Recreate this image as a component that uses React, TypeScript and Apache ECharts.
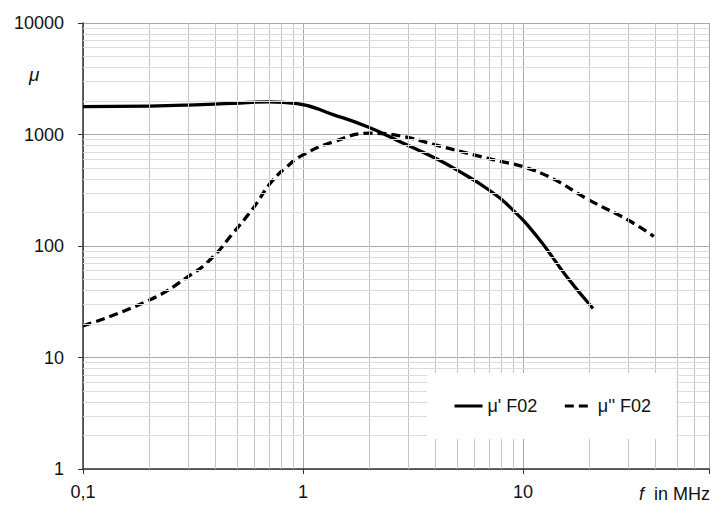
import React, { useEffect, useRef } from "react";
import * as echarts from "echarts";

// frequency in MHz, permeability
const freqReal = [0.1, 0.2, 0.3, 0.48, 0.7, 0.94, 1.38, 1.95, 2.76, 4, 5, 7, 9, 11.6, 15.8, 20.8];
const muReal = [1780, 1800, 1835, 1905, 1963, 1895, 1500, 1178, 863, 612, 481, 318, 210, 121, 53, 27.5];

const freqImag = [0.1, 0.2, 0.3, 0.38, 0.48, 0.6, 0.71, 0.845, 1, 1.38, 2.02, 2.76, 4, 6, 8, 10, 13.7, 20, 30, 39.3];
const muImag = [19.2, 32.7, 53, 76, 130, 225, 365, 515, 656, 863, 1027, 972, 807, 656, 571, 515, 400, 258, 171, 122];

const seriesNames = ["μ' F02", "μ'' F02"];

// minor grid positions
const xMinor = [0.2, 0.3, 0.4, 0.5, 0.6, 0.7, 0.8, 0.9, 2, 3, 4, 5, 6, 7, 8, 9, 20, 30, 40, 50, 60];
const yMinor = [
  2, 3, 4, 5, 6, 7, 8, 9,
  20, 30, 40, 50, 60, 70, 80, 90,
  200, 300, 400, 500, 600, 700, 800, 900,
  2000, 3000, 4000, 5000, 6000, 7000, 8000, 9000,
];

const FONT = "'Liberation Sans', Arial, sans-serif";

const isDecade = (v: number) => Math.abs(Math.log10(v) - Math.round(Math.log10(v))) < 0.01;

const App: React.FC = () => {
  const chartRef = useRef<HTMLDivElement>(null);

  useEffect(() => {
    document.body.style.margin = "0";
    if (!chartRef.current) return;
    const chart = echarts.init(chartRef.current, null, { renderer: "svg" });

    const option = {
      animation: false,
      backgroundColor: "#fff",
      textStyle: { fontFamily: FONT },
      grid: { left: 83, top: 23, right: 16, bottom: 44 },
      xAxis: {
        type: "log",
        logBase: 10,
        min: 0.1,
        max: 70,
        axisLine: { lineStyle: { color: "#333", width: 1.5 } },
        axisTick: { length: 5, lineStyle: { color: "#333", width: 1 } },
        axisLabel: {
          margin: 14,
          fontSize: 18,
          color: "#111",
          fontFamily: FONT,
          formatter: (v: number) => (isDecade(v) ? String(Number(v.toPrecision(3))).replace(".", ",") : ""),
        },
        splitLine: { show: true, lineStyle: { color: "#a8a8a8", width: 1 } },
      },
      yAxis: {
        type: "log",
        logBase: 10,
        min: 1,
        max: 10000,
        axisLine: { show: true, lineStyle: { color: "#333", width: 1.5 } },
        axisTick: { show: true, length: 5, lineStyle: { color: "#333", width: 1 } },
        axisLabel: {
          margin: 19,
          fontSize: 18,
          color: "#111",
          fontFamily: FONT,
          formatter: (v: number) => String(Math.round(v)),
        },
        splitLine: { show: true, lineStyle: { color: "#a8a8a8", width: 1 } },
      },
      legend: {
        data: seriesNames,
        left: 427,
        top: 373,
        z: 10,
        backgroundColor: "#ffffff",
        padding: [24, 25, 24, 26],
        itemWidth: 28,
        itemHeight: 14,
        itemGap: 26,
        itemStyle: { opacity: 0 },
        lineStyle: { width: 3 },
        textStyle: { fontSize: 18, color: "#111", fontFamily: FONT },
      },
      graphic: [
        {
          type: "text",
          x: 29,
          y: 74,
          style: {
            text: "μ",
            font: `italic 19px ${FONT}`,
            fill: "#111",
            verticalAlign: "middle",
          },
        },
        {
          type: "text",
          x: 710,
          y: 494,
          style: {
            text: "{i|f}  in MHz",
            align: "right",
            verticalAlign: "middle",
            fill: "#111",
            fontSize: 18,
            fontFamily: FONT,
            rich: { i: { fontStyle: "italic", fontSize: 18, fontFamily: FONT, fill: "#111" } },
          },
        },
      ],
      series: [
        {
          name: "grid",
          type: "line",
          z: 1,
          data: [],
          silent: true,
          markLine: {
            silent: true,
            symbol: ["none", "none"],
            label: { show: false },
            animation: false,
            data: [
              ...xMinor.map((v) => ({ xAxis: v, lineStyle: { color: "#c4c4c4", width: 1, type: "solid" } })),
              ...yMinor.map((v) => ({ yAxis: v, lineStyle: { color: "#dcdcdc", width: 1, type: "solid" } })),
            ],
          },
        },
        {
          name: seriesNames[0],
          type: "line",
          z: 3,
          symbol: "none",
          smooth: 0.5,
          data: freqReal.map((f, i) => [f, muReal[i]]),
          lineStyle: { color: "#000", width: 3.3 },
          itemStyle: { color: "#000" },
        },
        {
          name: seriesNames[1],
          type: "line",
          z: 3,
          symbol: "none",
          smooth: 0.5,
          data: freqImag.map((f, i) => [f, muImag[i]]),
          lineStyle: { color: "#000", width: 3.3, type: [9, 5] },
          itemStyle: { color: "#000" },
        },
      ],
    };

    chart.setOption(option);
    return () => {
      chart.dispose();
    };
  }, []);

  return <div ref={chartRef} style={{ width: 725, height: 513 }} />;
};

export default App;
